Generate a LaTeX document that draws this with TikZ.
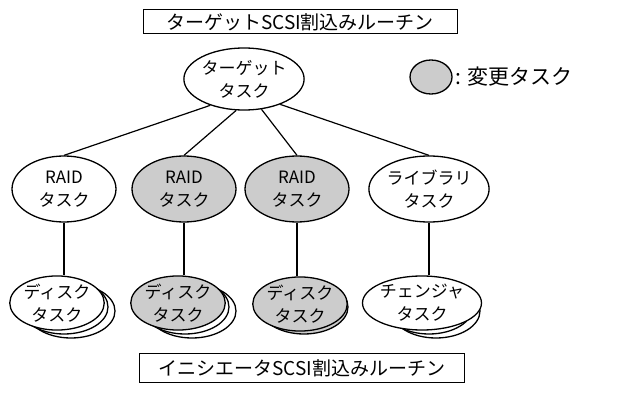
\documentclass[tikz,border=0pt]{standalone}
\usepackage{fontspec}
\setmainfont{Noto Sans CJK JP}
\usetikzlibrary{shapes.geometric}
\definecolor{chg}{gray}{0.8}
\tikzset{
  task/.style={ellipse, draw, line width=1.3pt, minimum width=104pt, minimum height=66pt,
    inner sep=0pt, align=center, font=\fontsize{17}{23}\selectfont},
  disk/.style={ellipse, draw, line width=1.3pt, minimum width=88pt, minimum height=54pt,
    inner sep=0pt, align=center, font=\fontsize{17}{23}\selectfont, fill=white},
  changed/.style={fill=chg},
  routine/.style={draw, line width=1pt, inner sep=0pt, font=\fontsize{19}{22}\selectfont},
  link/.style={line width=1.2pt}
}
\begin{document}
\begin{tikzpicture}[x=1pt,y=-1pt]
\useasboundingbox (0,0) rectangle (625,396);
% routines
\node[routine, minimum width=314pt, minimum height=24pt] (top) at (300,22) {ターゲットSCSI割込みルーチン};
\node[routine, minimum width=325pt, minimum height=29pt] (bot) at (302,368) {イニシエータSCSI割込みルーチン};
% target task
\node[task, minimum width=102pt, minimum height=62pt] (tgt) at (244,79) {ターゲット\\タスク};
% legend
\node[ellipse, draw, line width=1.3pt, changed, minimum width=42pt, minimum height=34pt, inner sep=0pt] (leg) at (431,77) {};
\node[anchor=west, inner sep=0pt, font=\fontsize{21}{24}\selectfont] (legtxt) at ([xshift=3pt]leg.east) {: 変更タスク};
% RAID level
\node[task] (r1) at (64,189) {RAID\\タスク};
\node[task, changed] (r2) at (184,189) {RAID\\タスク};
\node[task, changed] (r3) at (297,189) {RAID\\タスク};
\node[task] (r4) at (429,189) {ライブラリ\\タスク};
% disk stacks
\node[disk] (d1c) at (71,311) {};
\node[disk] (d1b) at (64,307) {};
\node[disk] (d1) at (57,303) {ディスク\\タスク};
\node[disk] (d2c) at (192,311) {};
\node[disk] (d2b) at (185,307) {};
\node[disk, changed] (d2) at (178,303) {ディスク\\タスク};
\node[disk, changed] (d3b) at (304,307) {};
\node[disk, changed] (d3) at (300,304) {ディスク\\タスク};
\node[disk] (d4c) at (436,311) {};
\node[disk] (d4b) at (429,307) {};
\node[disk] (d4) at (422,303) {チェンジャ\\タスク};
% connectors
\draw[link] (tgt.218) -- (r1.north);
\draw[link] (tgt.-104) -- (r2.north);
\draw[link] (tgt.-60) -- (r3.north);
\draw[link] (tgt.-35) -- (r4.north);
\draw[link] (r1.south) -- (r1.south |- d1.north);
\draw[link] (r2.south) -- (r2.south |- d2.north);
\draw[link] (r3.south) -- (r3.south |- d3.north);
\draw[link] (r4.south) -- (r4.south |- d4.north);
\end{tikzpicture}
\end{document}
